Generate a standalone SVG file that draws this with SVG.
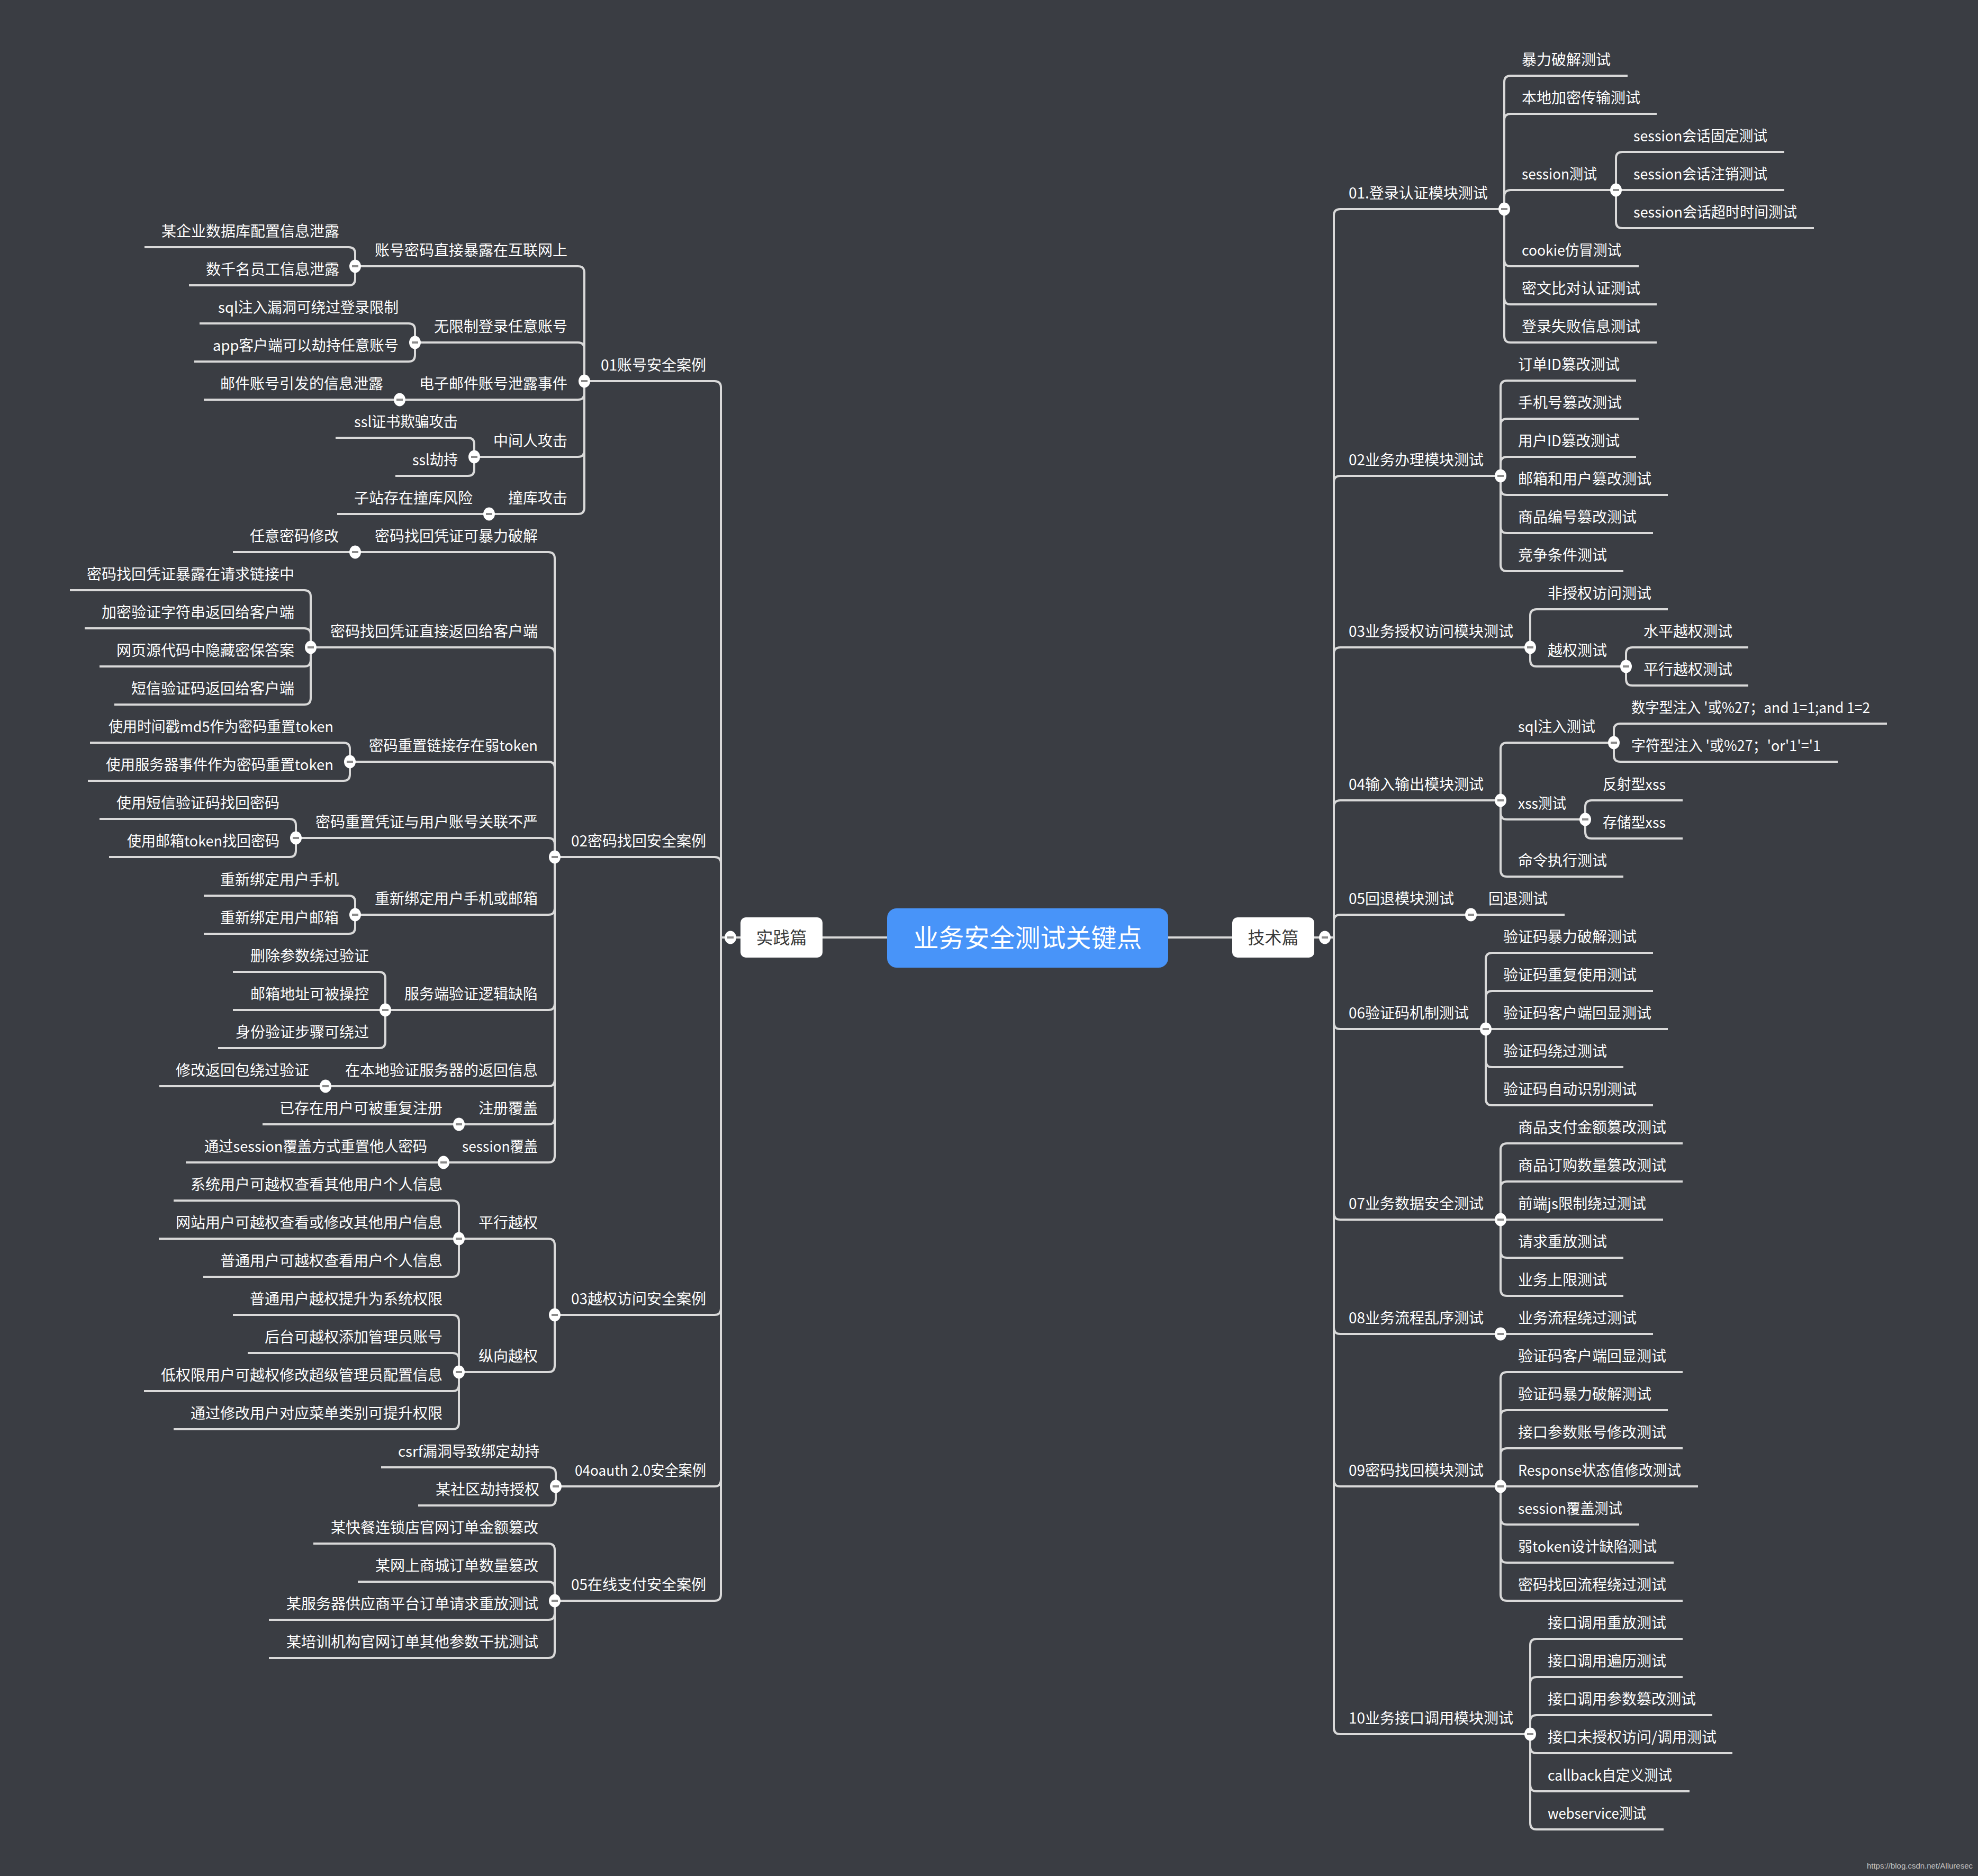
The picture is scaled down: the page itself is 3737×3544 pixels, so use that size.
<svg xmlns="http://www.w3.org/2000/svg" xmlns:xlink="http://www.w3.org/1999/xlink" width="3737" height="3544" viewBox="0 0 3737 3544">
<style>
.bg{fill:#3a3d43}
.c path{fill:none;stroke:#d9d9d9;stroke-width:4}
.t{font-family:"Noto Sans CJK SC","Noto Sans",sans-serif;font-size:28px;fill:#ffffff}
.L{text-anchor:end}
.m{font-family:"Noto Sans CJK SC","Noto Sans",sans-serif;text-anchor:middle}
</style>
<defs>
<g id="cc"><ellipse cx="0" cy="0" rx="11" ry="12.5" fill="#ffffff"/><rect x="-6" y="-2" width="12" height="4" fill="#8a8a8a"/></g>
</defs>
<rect class="bg" x="0" y="0" width="3737" height="3544"/>
<g id="connectors" class="c">
<path d="M1554 1771H1676M2207 1771H2328"/>
<path d="M1399 1771H1362"/>
<path d="M1104 720H1350Q1362 720 1362 732V1771"/>
<path d="M1048 1619H1350Q1362 1619 1362 1631V1771"/>
<path d="M1048 2484H1350Q1362 2484 1362 2472V1771"/>
<path d="M1050 2808H1350Q1362 2808 1362 2796V1771"/>
<path d="M1048 3024H1350Q1362 3024 1362 3012V1771"/>
<path d="M671 503H1092Q1104 503 1104 515V720"/>
<path d="M784 647H1092Q1104 647 1104 659V720"/>
<path d="M755 755H1092Q1104 755 1104 743V720"/>
<path d="M896 863H1092Q1104 863 1104 851V720"/>
<path d="M924 971H1092Q1104 971 1104 959V720"/>
<path d="M273 467H659Q671 467 671 479V503"/>
<path d="M357 539H659Q671 539 671 527V503"/>
<path d="M377 611H772Q784 611 784 623V647"/>
<path d="M367 683H772Q784 683 784 671V647"/>
<path d="M385 755H755"/>
<path d="M634 827H884Q896 827 896 839V863"/>
<path d="M747 899H884Q896 899 896 887V863"/>
<path d="M637 971H924"/>
<path d="M671 1043H1036Q1048 1043 1048 1055V1619"/>
<path d="M587 1223H1036Q1048 1223 1048 1235V1619"/>
<path d="M661 1439H1036Q1048 1439 1048 1451V1619"/>
<path d="M559 1583H1036Q1048 1583 1048 1595V1619"/>
<path d="M671 1728H1036Q1048 1728 1048 1716V1619"/>
<path d="M728 1908H1036Q1048 1908 1048 1896V1619"/>
<path d="M615 2052H1036Q1048 2052 1048 2040V1619"/>
<path d="M867 2124H1036Q1048 2124 1048 2112V1619"/>
<path d="M838 2196H1036Q1048 2196 1048 2184V1619"/>
<path d="M440 1043H671"/>
<path d="M132 1115H575Q587 1115 587 1127V1223"/>
<path d="M160 1187H575Q587 1187 587 1199V1223"/>
<path d="M188 1259H575Q587 1259 587 1247V1223"/>
<path d="M216 1331H575Q587 1331 587 1319V1223"/>
<path d="M170 1403H649Q661 1403 661 1415V1439"/>
<path d="M166 1475H649Q661 1475 661 1463V1439"/>
<path d="M188 1547H547Q559 1547 559 1559V1583"/>
<path d="M206 1619H547Q559 1619 559 1607V1583"/>
<path d="M385 1692H659Q671 1692 671 1704V1728"/>
<path d="M385 1764H659Q671 1764 671 1752V1728"/>
<path d="M440 1836H716Q728 1836 728 1848V1908"/>
<path d="M440 1908H728"/>
<path d="M412 1980H716Q728 1980 728 1968V1908"/>
<path d="M301 2052H615"/>
<path d="M496 2124H867"/>
<path d="M351 2196H838"/>
<path d="M867 2340H1036Q1048 2340 1048 2352V2484"/>
<path d="M867 2592H1036Q1048 2592 1048 2580V2484"/>
<path d="M328 2268H855Q867 2268 867 2280V2340"/>
<path d="M300 2340H867"/>
<path d="M384 2412H855Q867 2412 867 2400V2340"/>
<path d="M440 2484H855Q867 2484 867 2496V2592"/>
<path d="M468 2556H855Q867 2556 867 2568V2592"/>
<path d="M272 2628H855Q867 2628 867 2616V2592"/>
<path d="M328 2700H855Q867 2700 867 2688V2592"/>
<path d="M720 2772H1038Q1050 2772 1050 2784V2808"/>
<path d="M790 2844H1038Q1050 2844 1050 2832V2808"/>
<path d="M592 2916H1036Q1048 2916 1048 2928V3024"/>
<path d="M676 2988H1036Q1048 2988 1048 3000V3024"/>
<path d="M508 3060H1036Q1048 3060 1048 3048V3024"/>
<path d="M508 3132H1036Q1048 3132 1048 3120V3024"/>
<path d="M2483 1771H2520"/>
<path d="M2842 395H2532Q2520 395 2520 407V1771"/>
<path d="M2835 899H2532Q2520 899 2520 911V1771"/>
<path d="M2891 1223H2532Q2520 1223 2520 1235V1771"/>
<path d="M2835 1512H2532Q2520 1512 2520 1524V1771"/>
<path d="M2779 1728H2532Q2520 1728 2520 1740V1771"/>
<path d="M2807 1944H2532Q2520 1944 2520 1932V1771"/>
<path d="M2835 2304H2532Q2520 2304 2520 2292V1771"/>
<path d="M2835 2520H2532Q2520 2520 2520 2508V1771"/>
<path d="M2835 2808H2532Q2520 2808 2520 2796V1771"/>
<path d="M2891 3276H2532Q2520 3276 2520 3264V1771"/>
<path d="M3075 143H2854Q2842 143 2842 155V395"/>
<path d="M3130 215H2854Q2842 215 2842 227V395"/>
<path d="M3053 359H2854Q2842 359 2842 371V395"/>
<path d="M3096 503H2854Q2842 503 2842 491V395"/>
<path d="M3130 575H2854Q2842 575 2842 563V395"/>
<path d="M3130 647H2854Q2842 647 2842 635V395"/>
<path d="M3371 287H3065Q3053 287 3053 299V359"/>
<path d="M3371 359H3053"/>
<path d="M3427 431H3065Q3053 431 3053 419V359"/>
<path d="M3091 719H2847Q2835 719 2835 731V899"/>
<path d="M3096 791H2847Q2835 791 2835 803V899"/>
<path d="M3091 863H2847Q2835 863 2835 875V899"/>
<path d="M3151 935H2847Q2835 935 2835 923V899"/>
<path d="M3123 1007H2847Q2835 1007 2835 995V899"/>
<path d="M3067 1079H2847Q2835 1079 2835 1067V899"/>
<path d="M3151 1151H2903Q2891 1151 2891 1163V1223"/>
<path d="M3072 1259H2903Q2891 1259 2891 1247V1223"/>
<path d="M3303 1223H3084Q3072 1223 3072 1235V1259"/>
<path d="M3303 1295H3084Q3072 1295 3072 1283V1259"/>
<path d="M3049 1403H2847Q2835 1403 2835 1415V1512"/>
<path d="M2995 1548H2847Q2835 1548 2835 1536V1512"/>
<path d="M3067 1656H2847Q2835 1656 2835 1644V1512"/>
<path d="M3565 1367H3061Q3049 1367 3049 1379V1403"/>
<path d="M3472 1439H3061Q3049 1439 3049 1427V1403"/>
<path d="M3179 1512H3007Q2995 1512 2995 1524V1548"/>
<path d="M3179 1584H3007Q2995 1584 2995 1572V1548"/>
<path d="M2956 1728H2779"/>
<path d="M3123 1800H2819Q2807 1800 2807 1812V1944"/>
<path d="M3123 1872H2819Q2807 1872 2807 1884V1944"/>
<path d="M3151 1944H2807"/>
<path d="M3067 2016H2819Q2807 2016 2807 2004V1944"/>
<path d="M3123 2088H2819Q2807 2088 2807 2076V1944"/>
<path d="M3179 2160H2847Q2835 2160 2835 2172V2304"/>
<path d="M3179 2232H2847Q2835 2232 2835 2244V2304"/>
<path d="M3142 2304H2835"/>
<path d="M3067 2376H2847Q2835 2376 2835 2364V2304"/>
<path d="M3067 2448H2847Q2835 2448 2835 2436V2304"/>
<path d="M3123 2520H2835"/>
<path d="M3179 2592H2847Q2835 2592 2835 2604V2808"/>
<path d="M3151 2664H2847Q2835 2664 2835 2676V2808"/>
<path d="M3179 2736H2847Q2835 2736 2835 2748V2808"/>
<path d="M3208 2808H2835"/>
<path d="M3097 2880H2847Q2835 2880 2835 2868V2808"/>
<path d="M3162 2952H2847Q2835 2952 2835 2940V2808"/>
<path d="M3179 3024H2847Q2835 3024 2835 3012V2808"/>
<path d="M3179 3096H2903Q2891 3096 2891 3108V3276"/>
<path d="M3179 3168H2903Q2891 3168 2891 3180V3276"/>
<path d="M3235 3240H2903Q2891 3240 2891 3252V3276"/>
<path d="M3273 3312H2903Q2891 3312 2891 3300V3276"/>
<path d="M3192 3384H2903Q2891 3384 2891 3372V3276"/>
<path d="M3143 3456H2903Q2891 3456 2891 3444V3276"/>
</g>
<g id="root"><rect x="1676" y="1716" width="531" height="112" rx="18" fill="#4894f9"/><text class="m" x="1941.5" y="1789" font-size="48" fill="#ffffff">业务安全测试关键点</text></g>
<g id="shijian"><rect x="1399" y="1733" width="155" height="76" rx="10" fill="#ffffff"/><text class="m" x="1476.5" y="1783" font-size="32" fill="#3a3a3a">实践篇</text><use href="#cc" x="1380" y="1771"/></g>
<g id="jishu"><rect x="2328" y="1733" width="155" height="76" rx="10" fill="#ffffff"/><text class="m" x="2405.5" y="1783" font-size="32" fill="#3a3a3a">技术篇</text><use href="#cc" x="2503" y="1771"/></g>
<g id="left-nodes" class="t">
<g id="L01"><text class="L" x="1334" y="700">01账号安全案例</text><use href="#cc" x="1104" y="720"/></g>
<g id="L01a"><text class="L" x="1072" y="483">账号密码直接暴露在互联网上</text><use href="#cc" x="671" y="503"/></g>
<g id="L01a1"><text class="L" x="641" y="447">某企业数据库配置信息泄露</text></g>
<g id="L01a2"><text class="L" x="641" y="519">数千名员工信息泄露</text></g>
<g id="L01b"><text class="L" x="1072" y="627">无限制登录任意账号</text><use href="#cc" x="784" y="647"/></g>
<g id="L01b1"><text class="L" x="753" y="591" textLength="341" lengthAdjust="spacingAndGlyphs">sql注入漏洞可绕过登录限制</text></g>
<g id="L01b2"><text class="L" x="753" y="663" textLength="351" lengthAdjust="spacingAndGlyphs">app客户端可以劫持任意账号</text></g>
<g id="L01c"><text class="L" x="1072" y="735">电子邮件账号泄露事件</text><use href="#cc" x="755" y="755"/></g>
<g id="L01c1"><text class="L" x="724" y="735">邮件账号引发的信息泄露</text></g>
<g id="L01d"><text class="L" x="1072" y="843">中间人攻击</text><use href="#cc" x="896" y="863"/></g>
<g id="L01d1"><text class="L" x="865" y="807" textLength="196" lengthAdjust="spacingAndGlyphs">ssl证书欺骗攻击</text></g>
<g id="L01d2"><text class="L" x="865" y="879" textLength="86" lengthAdjust="spacingAndGlyphs">ssl劫持</text></g>
<g id="L01e"><text class="L" x="1072" y="951">撞库攻击</text><use href="#cc" x="924" y="971"/></g>
<g id="L01e1"><text class="L" x="893" y="951">子站存在撞库风险</text></g>
<g id="L02"><text class="L" x="1334" y="1599">02密码找回安全案例</text><use href="#cc" x="1048" y="1619"/></g>
<g id="L02a"><text class="L" x="1016" y="1023">密码找回凭证可暴力破解</text><use href="#cc" x="671" y="1043"/></g>
<g id="L02a1"><text class="L" x="640" y="1023">任意密码修改</text></g>
<g id="L02b"><text class="L" x="1016" y="1203">密码找回凭证直接返回给客户端</text><use href="#cc" x="587" y="1223"/></g>
<g id="L02b1"><text class="L" x="556" y="1095">密码找回凭证暴露在请求链接中</text></g>
<g id="L02b2"><text class="L" x="556" y="1167">加密验证字符串返回给客户端</text></g>
<g id="L02b3"><text class="L" x="556" y="1239">网页源代码中隐藏密保答案</text></g>
<g id="L02b4"><text class="L" x="556" y="1311">短信验证码返回给客户端</text></g>
<g id="L02c"><text class="L" x="1016" y="1419" textLength="319" lengthAdjust="spacingAndGlyphs">密码重置链接存在弱token</text><use href="#cc" x="661" y="1439"/></g>
<g id="L02c1"><text class="L" x="630" y="1383" textLength="425" lengthAdjust="spacingAndGlyphs">使用时间戳md5作为密码重置token</text></g>
<g id="L02c2"><text class="L" x="630" y="1455" textLength="430" lengthAdjust="spacingAndGlyphs">使用服务器事件作为密码重置token</text></g>
<g id="L02d"><text class="L" x="1016" y="1563">密码重置凭证与用户账号关联不严</text><use href="#cc" x="559" y="1583"/></g>
<g id="L02d1"><text class="L" x="528" y="1527">使用短信验证码找回密码</text></g>
<g id="L02d2"><text class="L" x="528" y="1599" textLength="288" lengthAdjust="spacingAndGlyphs">使用邮箱token找回密码</text></g>
<g id="L02e"><text class="L" x="1016" y="1708">重新绑定用户手机或邮箱</text><use href="#cc" x="671" y="1728"/></g>
<g id="L02e1"><text class="L" x="640" y="1672">重新绑定用户手机</text></g>
<g id="L02e2"><text class="L" x="640" y="1744">重新绑定用户邮箱</text></g>
<g id="L02f"><text class="L" x="1016" y="1888">服务端验证逻辑缺陷</text><use href="#cc" x="728" y="1908"/></g>
<g id="L02f1"><text class="L" x="697" y="1816">删除参数绕过验证</text></g>
<g id="L02f2"><text class="L" x="697" y="1888">邮箱地址可被操控</text></g>
<g id="L02f3"><text class="L" x="697" y="1960">身份验证步骤可绕过</text></g>
<g id="L02g"><text class="L" x="1016" y="2032">在本地验证服务器的返回信息</text><use href="#cc" x="615" y="2052"/></g>
<g id="L02g1"><text class="L" x="584" y="2032">修改返回包绕过验证</text></g>
<g id="L02h"><text class="L" x="1016" y="2104">注册覆盖</text><use href="#cc" x="867" y="2124"/></g>
<g id="L02h1"><text class="L" x="836" y="2104">已存在用户可被重复注册</text></g>
<g id="L02i"><text class="L" x="1016" y="2176" textLength="143" lengthAdjust="spacingAndGlyphs">session覆盖</text><use href="#cc" x="838" y="2196"/></g>
<g id="L02i1"><text class="L" x="807" y="2176" textLength="421" lengthAdjust="spacingAndGlyphs">通过session覆盖方式重置他人密码</text></g>
<g id="L03"><text class="L" x="1334" y="2464">03越权访问安全案例</text><use href="#cc" x="1048" y="2484"/></g>
<g id="L03a"><text class="L" x="1016" y="2320">平行越权</text><use href="#cc" x="867" y="2340"/></g>
<g id="L03a1"><text class="L" x="836" y="2248">系统用户可越权查看其他用户个人信息</text></g>
<g id="L03a2"><text class="L" x="836" y="2320">网站用户可越权查看或修改其他用户信息</text></g>
<g id="L03a3"><text class="L" x="836" y="2392">普通用户可越权查看用户个人信息</text></g>
<g id="L03b"><text class="L" x="1016" y="2572">纵向越权</text><use href="#cc" x="867" y="2592"/></g>
<g id="L03b1"><text class="L" x="836" y="2464">普通用户越权提升为系统权限</text></g>
<g id="L03b2"><text class="L" x="836" y="2536">后台可越权添加管理员账号</text></g>
<g id="L03b3"><text class="L" x="836" y="2608">低权限用户可越权修改超级管理员配置信息</text></g>
<g id="L03b4"><text class="L" x="836" y="2680">通过修改用户对应菜单类别可提升权限</text></g>
<g id="L04"><text class="L" x="1334" y="2788" textLength="248" lengthAdjust="spacingAndGlyphs">04oauth 2.0安全案例</text><use href="#cc" x="1050" y="2808"/></g>
<g id="L04a"><text class="L" x="1019" y="2752" textLength="267" lengthAdjust="spacingAndGlyphs">csrf漏洞导致绑定劫持</text></g>
<g id="L04b"><text class="L" x="1019" y="2824">某社区劫持授权</text></g>
<g id="L05"><text class="L" x="1334" y="3004">05在线支付安全案例</text><use href="#cc" x="1048" y="3024"/></g>
<g id="L05a"><text class="L" x="1017" y="2896">某快餐连锁店官网订单金额篡改</text></g>
<g id="L05b"><text class="L" x="1017" y="2968">某网上商城订单数量篡改</text></g>
<g id="L05c"><text class="L" x="1017" y="3040">某服务器供应商平台订单请求重放测试</text></g>
<g id="L05d"><text class="L" x="1017" y="3112">某培训机构官网订单其他参数干扰测试</text></g>
</g>
<g id="right-nodes" class="t">
<g id="R01"><text x="2548" y="375">01.登录认证模块测试</text><use href="#cc" x="2842" y="395"/></g>
<g id="R01a"><text x="2875" y="123">暴力破解测试</text></g>
<g id="R01b"><text x="2875" y="195">本地加密传输测试</text></g>
<g id="R01c"><text x="2875" y="339" textLength="142" lengthAdjust="spacingAndGlyphs">session测试</text><use href="#cc" x="3053" y="359"/></g>
<g id="R01c1"><text x="3086" y="267" textLength="253" lengthAdjust="spacingAndGlyphs">session会话固定测试</text></g>
<g id="R01c2"><text x="3086" y="339" textLength="253" lengthAdjust="spacingAndGlyphs">session会话注销测试</text></g>
<g id="R01c3"><text x="3086" y="411" textLength="309" lengthAdjust="spacingAndGlyphs">session会话超时时间测试</text></g>
<g id="R01d"><text x="2875" y="483" textLength="188" lengthAdjust="spacingAndGlyphs">cookie仿冒测试</text></g>
<g id="R01e"><text x="2875" y="555">密文比对认证测试</text></g>
<g id="R01f"><text x="2875" y="627">登录失败信息测试</text></g>
<g id="R02"><text x="2548" y="879">02业务办理模块测试</text><use href="#cc" x="2835" y="899"/></g>
<g id="R02a"><text x="2868" y="699" textLength="192" lengthAdjust="spacingAndGlyphs">订单ID篡改测试</text></g>
<g id="R02b"><text x="2868" y="771">手机号篡改测试</text></g>
<g id="R02c"><text x="2868" y="843" textLength="192" lengthAdjust="spacingAndGlyphs">用户ID篡改测试</text></g>
<g id="R02d"><text x="2868" y="915">邮箱和用户篡改测试</text></g>
<g id="R02e"><text x="2868" y="987">商品编号篡改测试</text></g>
<g id="R02f"><text x="2868" y="1059">竞争条件测试</text></g>
<g id="R03"><text x="2548" y="1203">03业务授权访问模块测试</text><use href="#cc" x="2891" y="1223"/></g>
<g id="R03a"><text x="2924" y="1131">非授权访问测试</text></g>
<g id="R03b"><text x="2924" y="1239">越权测试</text><use href="#cc" x="3072" y="1259"/></g>
<g id="R03b1"><text x="3105" y="1203">水平越权测试</text></g>
<g id="R03b2"><text x="3105" y="1275">平行越权测试</text></g>
<g id="R04"><text x="2548" y="1492">04输入输出模块测试</text><use href="#cc" x="2835" y="1512"/></g>
<g id="R04a"><text x="2868" y="1383" textLength="146" lengthAdjust="spacingAndGlyphs">sql注入测试</text><use href="#cc" x="3049" y="1403"/></g>
<g id="R04a1"><text x="3082" y="1347" textLength="451" lengthAdjust="spacingAndGlyphs">数字型注入 '或%27；and 1=1;and 1=2</text></g>
<g id="R04a2"><text x="3082" y="1419" textLength="358" lengthAdjust="spacingAndGlyphs">字符型注入 '或%27；'or'1'='1</text></g>
<g id="R04b"><text x="2868" y="1528" textLength="91" lengthAdjust="spacingAndGlyphs">xss测试</text><use href="#cc" x="2995" y="1548"/></g>
<g id="R04b1"><text x="3028" y="1492" textLength="119" lengthAdjust="spacingAndGlyphs">反射型xss</text></g>
<g id="R04b2"><text x="3028" y="1564" textLength="119" lengthAdjust="spacingAndGlyphs">存储型xss</text></g>
<g id="R04c"><text x="2868" y="1636">命令执行测试</text></g>
<g id="R05"><text x="2548" y="1708">05回退模块测试</text><use href="#cc" x="2779" y="1728"/></g>
<g id="R05a"><text x="2812" y="1708">回退测试</text></g>
<g id="R06"><text x="2548" y="1924">06验证码机制测试</text><use href="#cc" x="2807" y="1944"/></g>
<g id="R06a"><text x="2840" y="1780">验证码暴力破解测试</text></g>
<g id="R06b"><text x="2840" y="1852">验证码重复使用测试</text></g>
<g id="R06c"><text x="2840" y="1924">验证码客户端回显测试</text></g>
<g id="R06d"><text x="2840" y="1996">验证码绕过测试</text></g>
<g id="R06e"><text x="2840" y="2068">验证码自动识别测试</text></g>
<g id="R07"><text x="2548" y="2284">07业务数据安全测试</text><use href="#cc" x="2835" y="2304"/></g>
<g id="R07a"><text x="2868" y="2140">商品支付金额篡改测试</text></g>
<g id="R07b"><text x="2868" y="2212">商品订购数量篡改测试</text></g>
<g id="R07c"><text x="2868" y="2284" textLength="242" lengthAdjust="spacingAndGlyphs">前端js限制绕过测试</text></g>
<g id="R07d"><text x="2868" y="2356">请求重放测试</text></g>
<g id="R07e"><text x="2868" y="2428">业务上限测试</text></g>
<g id="R08"><text x="2548" y="2500">08业务流程乱序测试</text><use href="#cc" x="2835" y="2520"/></g>
<g id="R08a"><text x="2868" y="2500">业务流程绕过测试</text></g>
<g id="R09"><text x="2548" y="2788">09密码找回模块测试</text><use href="#cc" x="2835" y="2808"/></g>
<g id="R09a"><text x="2868" y="2572">验证码客户端回显测试</text></g>
<g id="R09b"><text x="2868" y="2644">验证码暴力破解测试</text></g>
<g id="R09c"><text x="2868" y="2716">接口参数账号修改测试</text></g>
<g id="R09d"><text x="2868" y="2788" textLength="308" lengthAdjust="spacingAndGlyphs">Response状态值修改测试</text></g>
<g id="R09e"><text x="2868" y="2860" textLength="197" lengthAdjust="spacingAndGlyphs">session覆盖测试</text></g>
<g id="R09f"><text x="2868" y="2932" textLength="262" lengthAdjust="spacingAndGlyphs">弱token设计缺陷测试</text></g>
<g id="R09g"><text x="2868" y="3004">密码找回流程绕过测试</text></g>
<g id="R10"><text x="2548" y="3256">10业务接口调用模块测试</text><use href="#cc" x="2891" y="3276"/></g>
<g id="R10a"><text x="2924" y="3076">接口调用重放测试</text></g>
<g id="R10b"><text x="2924" y="3148">接口调用遍历测试</text></g>
<g id="R10c"><text x="2924" y="3220">接口调用参数篡改测试</text></g>
<g id="R10d"><text x="2924" y="3292">接口未授权访问/调用测试</text></g>
<g id="R10e"><text x="2924" y="3364" textLength="235" lengthAdjust="spacingAndGlyphs">callback自定义测试</text></g>
<g id="R10f"><text x="2924" y="3436" textLength="186" lengthAdjust="spacingAndGlyphs">webservice测试</text></g>
</g>
<text x="3727" y="3530" font-family="Liberation Sans, Arial, sans-serif" font-size="15" fill="#c4c4c4" text-anchor="end">https://blog.csdn.net/Alluresec</text>
</svg>
